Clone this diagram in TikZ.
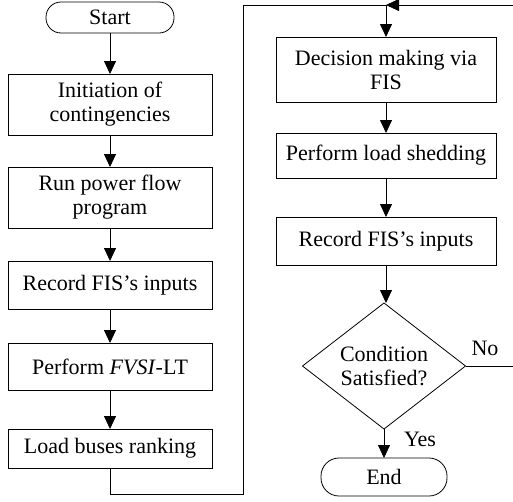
\documentclass[tikz,border=0pt]{standalone}
\usepackage{fontspec}
\setmainfont{Liberation Serif}
\usetikzlibrary{arrows.meta,shapes.geometric}
\begin{document}
\begin{tikzpicture}[x=1pt,y=-1pt,
  txt/.style={font=\fontsize{22}{24}\selectfont, align=center, inner sep=0pt},
  box/.style={txt, draw, line width=0.8pt, outer sep=0pt},
  arr/.style={line width=0.8pt, -{Triangle[length=13pt,width=12pt]}},
  ln/.style={line width=0.8pt}]
\useasboundingbox (0,0) rectangle (513,501);
% left column
\node[box, minimum width=128, minimum height=31, rounded corners=15] (start) at (110,17.5) {Start};
\node[box, minimum width=204, minimum height=61] (init) at (110,104.5) {Initiation of\\contingencies};
\node[box, minimum width=204, minimum height=61] (run) at (110,197.5) {Run power flow\\program};
\node[box, minimum width=204, minimum height=48] (rec1) at (110,285) {Record FIS’s inputs};
\node[box, minimum width=204, minimum height=47] (fvsi) at (110,366.5) {Perform \textit{FVSI}-LT};
\node[box, minimum width=204, minimum height=39] (rank) at (110,448.5) {Load buses ranking};
% right column
\node[box, minimum width=220, minimum height=65] (dec) at (386,69.5) {Decision making via\\FIS};
\node[box, minimum width=220, minimum height=45] (shed) at (386,155.5) {Perform load shedding};
\node[box, minimum width=220, minimum height=48] (rec2) at (386,241) {Record FIS’s inputs};
\node[box, diamond, aspect=1.29, minimum width=163, minimum height=126] (cond) at (384,366) {Condition\\Satisfied?};
\node[box, minimum width=126, minimum height=38, rounded corners=18] (end) at (384,477) {End};
% labels
\node[txt] (no) at (485,348) {No};
\node[txt] (yes) at (420,439) {Yes};
% coordinates
\coordinate (c1) at (110,494);
\coordinate (c2) at (243,494);
\coordinate (c3) at (243,5);
\coordinate (c4) at (386,5);
\coordinate (n1) at (516,366);
\coordinate (n2) at (516,5);
% connectors
\draw[arr] (start) -- (init);
\draw[arr] (init) -- (run);
\draw[arr] (run) -- (rec1);
\draw[arr] (rec1) -- (fvsi);
\draw[arr] (fvsi) -- (rank);
\draw[ln] (rank.south) -- (c1) -- (c2) -- (c3) -- (c4);
\draw[arr] (c4) -- (dec.north);
\draw[arr] (dec) -- (shed);
\draw[arr] (shed) -- (rec2);
\draw[arr] (rec2.south) -- (rec2.south |- cond.north);
\draw[arr] (cond.south) -- (cond.south |- end.north);
\draw[arr] (cond.east) -- (n1) -- (n2) -- (c4);
\end{tikzpicture}
\end{document}
